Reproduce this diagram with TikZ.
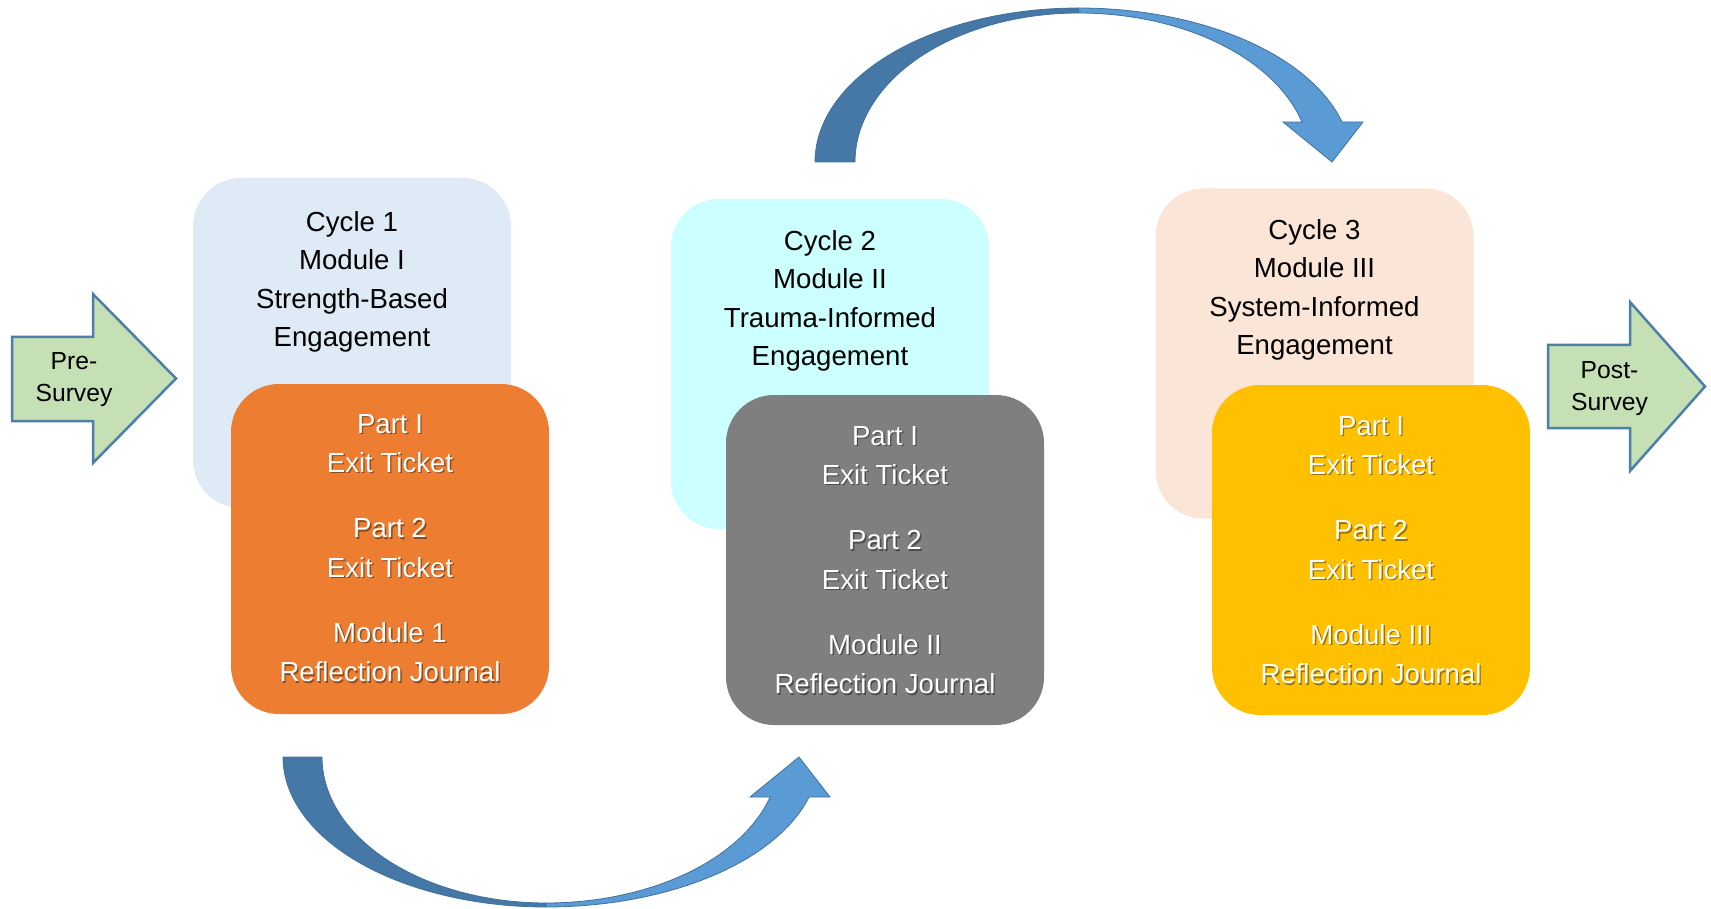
\documentclass[tikz,border=0pt]{standalone}
\usepackage{fontspec}
\setmainfont{Liberation Sans}
\definecolor{cycleA}{HTML}{DEEBF7}
\definecolor{cycleB}{HTML}{CCFFFF}
\definecolor{cycleC}{HTML}{FBE5D6}
\definecolor{partA}{HTML}{ED7D31}
\definecolor{partB}{HTML}{7F7F7F}
\definecolor{partC}{HTML}{FFC000}
\definecolor{surveyfill}{HTML}{C5E0B4}
\definecolor{surveyedge}{HTML}{4E7EAA}
\definecolor{bendback}{HTML}{4577A7}
\definecolor{bendfront}{HTML}{5B9BD5}
\definecolor{bendedge}{HTML}{41719C}
\newcommand{\shadowed}[4]{%
  \node[itemshadow] (#1s) at ($(#2,#3)+(1.4,1.4)$) {#4};
  \node[itemtxt] (#1) at (#2,#3) {#4};}
\usetikzlibrary{calc}
\begin{document}
\begin{tikzpicture}[x=1pt,y=-1pt,
  card/.style={rounded corners=48pt, minimum width=318pt, minimum height=330pt, inner sep=0pt},
  headtxt/.style={align=center, inner sep=0pt, text=black, font=\fontsize{27.6}{38.5}\selectfont},
  itemtxt/.style={align=center, inner sep=0pt, text=white, font=\fontsize{27.6}{39.3}\selectfont},
  itemshadow/.style={itemtxt, text=black, text opacity=0.4},
  surveytxt/.style={align=center, inner sep=0pt, text=black, font=\fontsize{24.7}{32}\selectfont},
  survey/.style={fill=surveyfill, draw=surveyedge, line width=2.5pt, line join=miter},
  back/.style={fill=bendback, draw=bendedge, line width=0.8pt, line join=round},
  front/.style={fill=bendfront, draw=bendedge, line width=0.8pt, line join=miter}]
\useasboundingbox (0,0) rectangle (1711,909);

% survey arrows
\draw[survey] (12,337) -- (93,337) -- (93,294) -- (176,378.5) -- (93,463) -- (93,421) -- (12,421) -- cycle;
\node[surveytxt] (pre) at (74,380) {Pre-\\Survey};
\draw[survey] (1548,345) -- (1630,345) -- (1630,302) -- (1705,386.5) -- (1630,471) -- (1630,428) -- (1548,428) -- cycle;
\node[surveytxt] (post) at (1609.5,389) {Post-\\Survey};

% cycle 1
\node[card, fill=cycleA] (c1) at (352,343) {};
\node[headtxt] (c1t) at (352,282) {Cycle 1\\Module I\\Strength-Based\\Engagement};
\node[card, fill=partA] (p1) at (390,549) {};
\shadowed{p1t}{390}{548}{Part I\\Exit Ticket\\[26pt]Part 2\\Exit Ticket\\[26pt]Module 1\\Reflection Journal}

% cycle 2
\node[card, fill=cycleB] (c2) at (830,364) {};
\node[headtxt] (c2t) at (830,301) {Cycle 2\\Module II\\Trauma-Informed\\Engagement};
\node[card, fill=partB] (p2) at (885,560) {};
\shadowed{p2t}{885}{560}{Part I\\Exit Ticket\\[26pt]Part 2\\Exit Ticket\\[26pt]Module II\\Reflection Journal}

% cycle 3
\node[card, fill=cycleC] (c3) at (1314.5,353.5) {};
\node[headtxt] (c3t) at (1314.5,290) {Cycle 3\\Module III\\System-Informed\\Engagement};
\node[card, fill=partC] (p3) at (1371,550) {};
\shadowed{p3t}{1371}{550}{Part I\\Exit Ticket\\[26pt]Part 2\\Exit Ticket\\[26pt]Module III\\Reflection Journal}

% curved arrow over the top, cycle 2 to cycle 3
\draw[back] (815,162)
  -- plot[domain=180:90, samples=60] ({1078.5+263.5*cos(\x)},{162-154*sin(\x)})
  -- plot[domain=90:180, samples=60] ({1078.5+223.5*cos(\x)},{162-149*sin(\x)})
  -- cycle;
\draw[front] (1078.5,8)
  -- plot[domain=90:15.06, samples=60] ({1078.5+272.9*cos(\x)},{162-154*sin(\x)})
  -- (1363,122) -- (1332,162) -- (1283,122)
  -- plot[domain=15.57:90, samples=60] ({1078.5+232*cos(\x)},{162-149*sin(\x)})
  -- cycle;

% curved arrow underneath, cycle 1 to cycle 2
\draw[back] (283,757)
  -- plot[domain=180:270, samples=60] ({546+263*cos(\x)},{757-150*sin(\x)})
  -- plot[domain=270:180, samples=60] ({546+224*cos(\x)},{757-146*sin(\x)})
  -- cycle;
\draw[front] (546,907)
  -- plot[domain=270:344.53, samples=60] ({546+272.9*cos(\x)},{757-150*sin(\x)})
  -- (830,797) -- (799,757) -- (750,797)
  -- plot[domain=344.1:270, samples=60] ({546+233*cos(\x)},{757-146*sin(\x)})
  -- cycle;
\end{tikzpicture}
\end{document}
